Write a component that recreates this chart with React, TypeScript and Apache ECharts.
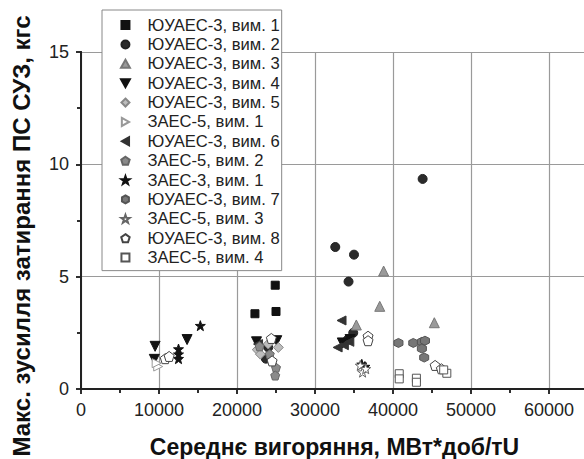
import React, { useEffect, useRef } from "react";
import * as echarts from "echarts";

const FONT = 'Arial, "Liberation Sans", sans-serif';

const seriesNames = [
  "ЮУАЕС-3, вим. 1",
  "ЮУАЕС-3, вим. 2",
  "ЮУАЕС-3, вим. 3",
  "ЮУАЕС-3, вим. 4",
  "ЮУАЕС-3, вим. 5",
  "ЗАЕС-5, вим. 1",
  "ЮУАЕС-3, вим. 6",
  "ЗАЕС-5, вим. 2",
  "ЗАЕС-3, вим. 1",
  "ЮУАЕС-3, вим. 7",
  "ЗАЕС-5, вим. 3",
  "ЮУАЕС-3, вим. 8",
  "ЗАЕС-5, вим. 4",
];

const yuaes3_1 = [[22300, 3.35], [25000, 3.45], [24900, 4.62]];
const yuaes3_2 = [[32600, 6.32], [35000, 5.98], [34300, 4.78], [43800, 9.35], [34900, 2.5], [24000, 1.85], [23700, 1.35], [34200, 2.2]];
const yuaes3_3 = [[38800, 5.25], [38300, 3.68], [35300, 2.85], [45300, 2.95]];
const yuaes3_4 = [[9500, 1.9], [9400, 1.32], [13600, 2.2], [22500, 2.1], [25100, 2.15], [33500, 2.05], [34500, 2.2]];
const yuaes3_5 = [[22600, 1.75], [25300, 1.85], [23000, 1.55], [24000, 2.0]];
const zaes5_1 = [[9900, 1.0], [9700, 1.15]];
const yuaes3_6 = [[33400, 3.05], [32900, 1.85], [33700, 1.95], [34400, 2.1], [22700, 2.0]];
const zaes5_2 = [[25000, 0.95], [24900, 0.6], [22900, 1.9], [24200, 1.55]];
const zaes3_1 = [[15300, 2.82], [12500, 1.78], [12500, 1.55], [12500, 1.35], [36000, 1.1], [36400, 1.0]];
const yuaes3_7 = [[40700, 2.05], [42600, 2.05], [43700, 2.1], [44100, 2.15], [43700, 1.8], [44000, 1.4]];
const zaes5_3 = [[35800, 1.05], [36100, 0.75], [36500, 0.9]];
const yuaes3_8 = [[10800, 1.35], [11300, 1.45], [36800, 2.35], [36800, 2.15], [45400, 1.05], [46200, 0.9], [24400, 2.25], [24500, 1.25]];
const zaes5_4 = [[40800, 0.68], [40800, 0.45], [43000, 0.48], [43000, 0.3], [46900, 0.7], [46500, 0.85]];

const seriesData = [
  yuaes3_1, yuaes3_2, yuaes3_3, yuaes3_4, yuaes3_5, zaes5_1, yuaes3_6,
  zaes5_2, zaes3_1, yuaes3_7, zaes5_3, yuaes3_8, zaes5_4,
];

const xTicks = { min: 0, max: 65000, interval: 10000 };
const yTicks = { min: 0, max: 15, interval: 5 };

const xTitle = "Середнє вигоряння, МВт*доб/тU";
const yTitle = "Макс. зусилля затирання ПС СУЗ, кгс";

const P = {
  square: "path://M0,0H10V10H0Z",
  circle: "path://M5,0A5,5,0,1,1,5,10A5,5,0,1,1,5,0Z",
  triUp: "path://M5,0L10,9L0,9Z",
  triDown: "path://M0,0L10,0L5,9Z",
  diamond: "path://M5,0L10,5L5,10L0,5Z",
  triRight: "path://M0,0L9,5L0,10Z",
  triLeft: "path://M9,0L9,10L0,5Z",
  pentagon: "path://M5,0L9.76,3.45L7.94,9.05L2.06,9.05L0.24,3.45Z",
  star: "path://M5,0L6.18,3.38L9.76,3.45L6.9,5.62L7.94,9.05L5,7L2.06,9.05L3.1,5.62L0.24,3.45L3.82,3.38Z",
  hexagon: "path://M5,0L9.33,2.5L9.33,7.5L5,10L0.67,7.5L0.67,2.5Z",
};

const styles = [
  { symbol: P.square, size: 8, color: "#111", border: "#111" },
  { symbol: P.circle, size: 9, color: "#2b2b2b", border: "#222" },
  { symbol: P.triUp, size: 10, color: "#9a9a9a", border: "#777" },
  { symbol: P.triDown, size: 10, color: "#111", border: "#111" },
  { symbol: P.diamond, size: 10, color: "#bdbdbd", border: "#888" },
  { symbol: P.triRight, size: 9, color: "#fff", border: "#999" },
  { symbol: P.triLeft, size: 9, color: "#333", border: "#333" },
  { symbol: P.pentagon, size: 9, color: "#8a8a8a", border: "#666" },
  { symbol: P.star, size: 10, color: "#111", border: "#111" },
  { symbol: P.hexagon, size: 9, color: "#777", border: "#555" },
  { symbol: P.star, size: 10, color: "#fff", border: "#666" },
  { symbol: P.pentagon, size: 10, color: "#fff", border: "#444" },
  { symbol: P.square, size: 8, color: "#fff", border: "#555" },
];

export default function App() {
  const ref = useRef<HTMLDivElement>(null);
  useEffect(() => {
    document.body.style.margin = "0";
    const chart = echarts.init(ref.current!, null, { renderer: "svg" });
    const axisLine = { show: true, lineStyle: { color: "#222", width: 2 } };
    const tickStyle = { color: "#222", width: 1.5 };
    const option: any = {
      animation: false,
      backgroundColor: "#fff",
      textStyle: { fontFamily: FONT },
      grid: { left: 81, right: -4, top: 52, bottom: 70, containLabel: false, outerBoundsMode: "none" },
      legend: {
        orient: "vertical",
        left: 102,
        top: 10,
        padding: [6.6, 2, 4.6, 18],
        itemWidth: 10,
        itemHeight: 8,
        itemGap: 2.37,
        backgroundColor: "#fff",
        borderColor: "#888",
        borderWidth: 1,
        borderRadius: 0,
        textStyle: { fontFamily: FONT, fontSize: 16.6, color: "#222", lineHeight: 16.8, padding: [0, 0, 0, 12] },
        data: seriesNames,
      },
      xAxis: [
        {
          type: "value",
          position: "bottom",
          ...xTicks,
          name: xTitle,
          nameLocation: "middle",
          nameGap: 46,
          nameTextStyle: { fontFamily: FONT, fontSize: 23, fontWeight: "bold", color: "#111" },
          axisLine,
          axisTick: { show: true, length: 5, lineStyle: tickStyle },
          minorTick: { show: true, splitNumber: 2, length: 4, lineStyle: tickStyle },
          axisLabel: { fontFamily: FONT, fontSize: 18, color: "#222", margin: 12, showMaxLabel: false, formatter: (v: number) => String(v) },
          splitLine: { show: true, lineStyle: { color: "#9a9a9a", width: 1.2 } },
        },
        {
          type: "value",
          position: "top",
          ...xTicks,
          axisLine,
          axisTick: { show: true, inside: true, length: 5, lineStyle: tickStyle },
          minorTick: { show: true, splitNumber: 2, length: 4, lineStyle: tickStyle },
          axisLabel: { show: false },
          splitLine: { show: false },
        },
      ],
      yAxis: [
        {
          type: "value",
          position: "left",
          ...yTicks,
          axisLine,
          axisTick: { show: true, length: 5, lineStyle: tickStyle },
          minorTick: { show: true, splitNumber: 2, length: 4, lineStyle: tickStyle },
          axisLabel: { fontFamily: FONT, fontSize: 18, color: "#222", margin: 12 },
          splitLine: { show: true, lineStyle: { color: "#9a9a9a", width: 1.2 } },
        },
        {
          type: "value",
          position: "right",
          ...yTicks,
          axisLine,
          axisTick: { show: true, inside: true, length: 5, lineStyle: tickStyle },
          minorTick: { show: true, splitNumber: 2, length: 4, lineStyle: tickStyle },
          axisLabel: { show: false },
          splitLine: { show: false },
        },
      ],
      graphic: [
        {
          type: "text",
          x: 21,
          y: 236,
          rotation: Math.PI / 2,
          style: {
            text: yTitle,
            font: `bold 24px ${FONT}`,
            fill: "#111",
            textAlign: "center",
            textVerticalAlign: "middle",
          },
        },
      ],
      series: seriesNames.map((name, i) => ({
        name,
        type: "scatter",
        xAxisIndex: 0,
        yAxisIndex: 0,
        data: seriesData[i],
        symbol: styles[i].symbol,
        symbolSize: styles[i].size,
        itemStyle: { color: styles[i].color, borderColor: styles[i].border, borderWidth: 1, opacity: 1 },
        emphasis: { disabled: true },
      })),
    };
    chart.setOption(option);
    return () => chart.dispose();
  }, []);
  return <div ref={ref} style={{ position: "absolute", left: 0, top: 0, width: 584, height: 459 }} />;
}
